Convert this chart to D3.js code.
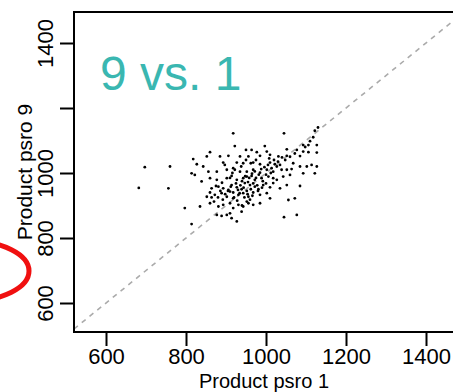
<!DOCTYPE html>
<meta charset="utf-8">
<style>
body { margin: 0; background: #fff; font-family: Arial, "Liberation Sans", Helvetica, sans-serif; }
.axis path { display: none; }
.axis line { stroke: #000; stroke-width: 2; }
.axis text { font-size: 22px; fill: #000; }
</style>
<body>
<script src="https://d3js.org/d3.v7.min.js"></script>
<script>

// chart values
var title = "9 vs. 1";
var xLabel = "Product psro 1";
var yLabel = "Product psro 9";
var xTicks = [600, 800, 1000, 1200, 1400];
var yTicks = [600, 800, 1000, 1200, 1400];
var yTickLabels = ["600", "800", "1000", "", "1400"];

// points: psro 1 (x) and psro 9 (y)
var psro1 = [
  697, 682, 918, 1045, 922, 997, 1093, 1106, 1127, 1130, 1122, 860, 950, 964, 977, 1002, 1052, 1077, 1093, 1106,
  1127, 818, 852, 885, 906, 935, 956, 985, 1010, 1031, 1052, 827, 843, 893, 897, 927, 943, 968, 985, 1010,
  1022, 1035, 1068, 1085, 1102, 1114, 1127, 760, 814, 822, 856, 877, 902, 918, 935, 952, 968, 985, 1002, 1014,
  1027, 1018, 1039, 1052, 1064, 1093, 1122, 839, 860, 877, 902, 914, 927, 943, 952, 964, 972, 989, 1006, 1018,
  1027, 1043, 1060, 756, 864, 881, 893, 906, 914, 927, 939, 947, 960, 972, 981, 993, 1010, 1018, 1035, 1052,
  1085, 852, 860, 872, 889, 902, 910, 918, 931, 943, 956, 968, 985, 1002, 1010, 1056, 1072, 797, 835, 860,
  881, 893, 910, 918, 931, 943, 956, 968, 985, 877, 889, 902, 910, 914, 939, 1045, 1077, 814, 927,
  905, 912, 918, 925, 930, 936, 940, 944, 948, 952, 955, 958, 962, 965, 968, 972, 975, 978, 982, 988,
  992, 996, 1000, 1005, 1012, 920, 928, 934, 946, 954, 960, 898, 892, 886, 880, 910, 916, 922, 938, 950,
  962, 975, 1008, 1020, 1030, 1040, 1048, 1060, 1072, 1085, 1098, 1110, 1118, 940, 952, 966, 980, 990, 1000, 870,
  864, 875, 890
];
var psro9 = [
  1018, 954, 1122, 1122, 1083, 1083, 1086, 1086, 1086, 1140, 1130, 1064, 1071, 1071, 1064, 1066, 1073, 1071, 1066, 1064,
  1063, 1043, 1051, 1051, 1053, 1051, 1051, 1053, 1056, 1051, 1053, 1027, 1020, 1032, 1025, 1032, 1030, 1032, 1027, 1032,
  1027, 1025, 1030, 1020, 1020, 1025, 1020, 1020, 999, 994, 1004, 1004, 1010, 1015, 1004, 1004, 1010, 1001, 1010, 1015,
  1020, 1004, 1010, 1010, 1012, 999, 999, 974, 984, 979, 984, 991, 979, 984, 989, 991, 979, 984, 989, 984,
  979, 989, 994, 953, 953, 958, 953, 948, 963, 956, 950, 969, 963, 958, 950, 963, 956, 969, 953, 963,
  960, 927, 940, 933, 938, 927, 943, 922, 933, 938, 927, 940, 933, 938, 922, 917, 922, 892, 897, 907,
  897, 902, 907, 892, 902, 897, 907, 902, 907, 871, 868, 871, 876, 861, 881, 864, 871, 843, 851,
  945, 958, 940, 968, 948, 962, 975, 955, 990, 945, 972, 985, 950, 998, 968, 1005, 985, 962, 995, 1012,
  975, 1018, 995, 1025, 1000, 925, 915, 938, 925, 935, 918, 935, 918, 945, 925, 985, 1000, 1010, 1020, 1040,
  1030, 1040, 1045, 1040, 1035, 1048, 1040, 1050, 1060, 1052, 1080, 1098, 1110, 900, 912, 930, 945, 955, 968, 912,
  925, 960, 970
];

var points = psro1.map(function(d, i) { return {x: d, y: psro9[i]}; });

var W = 453, H = 392;
var box = {left: 74, top: 12, right: 480, bottom: 332};

var svg = d3.select("body").append("svg")
    .attr("width", W)
    .attr("height", H);

var x = d3.scaleLinear().domain([600, 1400]).range([106, 426]);
var y = d3.scaleLinear().domain([600, 1400]).range([303, 43]);

svg.append("clipPath").attr("id", "clip")
  .append("rect")
    .attr("x", box.left).attr("y", box.top)
    .attr("width", box.right - box.left).attr("height", box.bottom - box.top);

var plot = svg.append("g").attr("clip-path", "url(#clip)");

// y = x reference line
var lo = x.invert(box.left), hi = x.invert(box.right);
plot.append("line")
    .attr("x1", x(lo)).attr("y1", y(lo))
    .attr("x2", x(hi)).attr("y2", y(hi))
    .attr("stroke", "#ababab")
    .attr("stroke-width", 1.6)
    .attr("stroke-dasharray", "5,5");

plot.selectAll(".dot")
  .data(points)
  .enter().append("circle")
    .attr("class", "dot")
    .attr("cx", function(d) { return x(d.x); })
    .attr("cy", function(d) { return y(d.y); })
    .attr("r", 1.4)
    .attr("fill", "#000");

// frame
svg.append("rect")
    .attr("x", box.left).attr("y", box.top)
    .attr("width", box.right - box.left).attr("height", box.bottom - box.top)
    .attr("fill", "none")
    .attr("stroke", "#000")
    .attr("stroke-width", 2);

// axes
var xAxis = svg.append("g")
    .attr("class", "axis")
    .attr("transform", "translate(0," + box.bottom + ")")
    .call(d3.axisBottom(x).tickValues(xTicks).tickSize(14).tickFormat(d3.format("d")));
xAxis.selectAll("text").attr("dy", null).attr("y", 32);

var yAxis = svg.append("g")
    .attr("class", "axis")
    .attr("transform", "translate(" + box.left + ",0)")
    .call(d3.axisLeft(y).tickValues(yTicks).tickSize(14)
      .tickFormat(function(d, i) { return yTickLabels[i]; }));
yAxis.selectAll(".tick text")
    .attr("x", null).attr("y", null).attr("dy", null)
    .attr("text-anchor", "middle")
    .attr("transform", "translate(-21,0) rotate(-90)");

// axis titles
svg.append("text")
    .attr("x", 264).attr("y", 388)
    .attr("text-anchor", "middle")
    .style("font-size", "20px")
    .text(xLabel);

svg.append("text")
    .attr("transform", "translate(32,172) rotate(-90)")
    .attr("text-anchor", "middle")
    .style("font-size", "21px")
    .text(yLabel);

// panel title
svg.append("text")
    .attr("x", 100).attr("y", 90)
    .style("font-size", "48px")
    .attr("fill", "#3ab7b1")
    .text(title);

// red annotation ring at the left edge
svg.append("ellipse")
    .attr("cx", -31).attr("cy", 271)
    .attr("rx", 60).attr("ry", 30)
    .attr("fill", "none")
    .attr("stroke", "#f01010")
    .attr("stroke-width", 5);

</script>
</body>
